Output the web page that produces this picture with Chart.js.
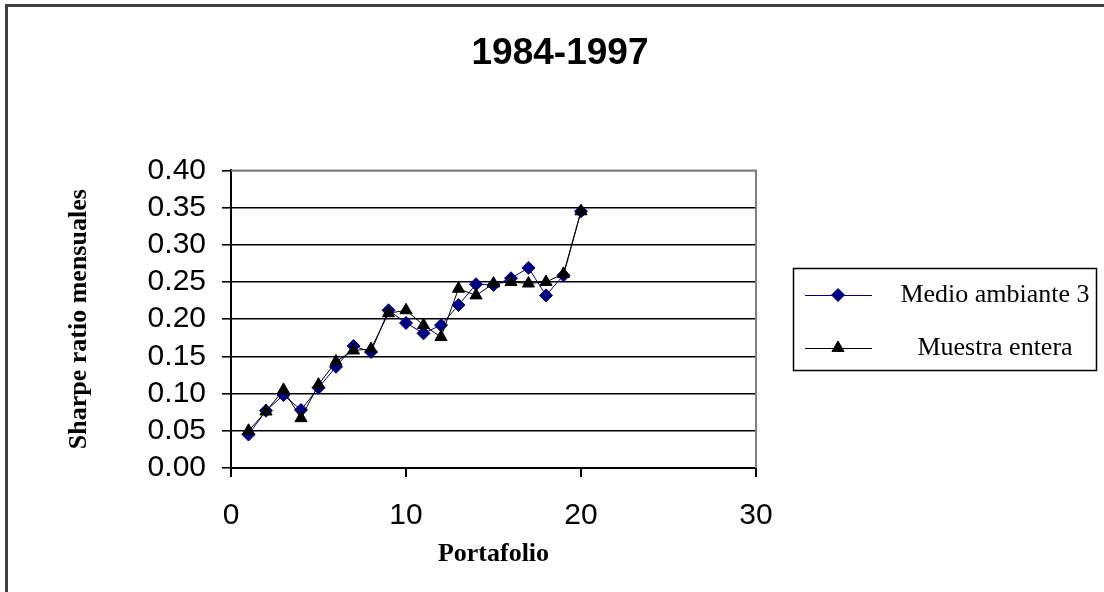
<!DOCTYPE html>
<html>
<head>
<meta charset="utf-8">
<script src="https://cdn.jsdelivr.net/npm/chart.js@4/dist/chart.umd.min.js"></script>
<style>
  html, body { margin: 0; padding: 0; background: #fff; }
  #wrap { position: absolute; left: 0; top: 0; width: 1104px; height: 592px; }
</style>
</head>
<body>
<div id="wrap"><canvas id="c" width="1104" height="592"></canvas></div>
<script>
const chartTitle = '1984-1997';
const xTitle = 'Portafolio';
const yTitle = 'Sharpe ratio mensuales';
const seriesNames = ['Medio ambiante 3', 'Muestra entera'];
const portafolio = [1, 2, 3, 4, 5, 6, 7, 8, 9, 10, 11, 12, 13, 14, 15, 16, 17, 18, 19, 20];
const medioAmbiante3 = [0.045, 0.077, 0.098, 0.078, 0.108, 0.136, 0.164, 0.156, 0.212, 0.195,
                        0.181, 0.192, 0.219, 0.247, 0.246, 0.255, 0.269, 0.232, 0.259, 0.345];
const muestraEntera = [0.050, 0.076, 0.105, 0.067, 0.112, 0.143, 0.158, 0.160, 0.208, 0.212,
                       0.192, 0.176, 0.241, 0.232, 0.248, 0.250, 0.248, 0.250, 0.261, 0.345];
const xTicks = [0, 10, 20, 30];
const yTicks = [0, 0.05, 0.10, 0.15, 0.20, 0.25, 0.30, 0.35, 0.40];

const toPts = (ys) => portafolio.map((x, i) => ({ x: x, y: ys[i] }));

const framePlugin = {
  id: 'frame',
  beforeDraw(chart) {
    const ctx = chart.ctx;
    ctx.save();
    ctx.fillStyle = '#fff';
    ctx.fillRect(0, 0, chart.width, chart.height);
    ctx.strokeStyle = '#404040';
    ctx.lineWidth = 3;
    ctx.beginPath();
    ctx.moveTo(6.5, chart.height);
    ctx.lineTo(6.5, 5.5);
    ctx.lineTo(chart.width, 5.5);
    ctx.stroke();
    ctx.restore();
  },
  beforeDatasetsDraw(chart) {
    const a = chart.chartArea;
    const ctx = chart.ctx;
    ctx.save();
    ctx.strokeStyle = '#808080';
    ctx.lineWidth = 2;
    ctx.beginPath();
    ctx.moveTo(a.left, a.top);
    ctx.lineTo(a.right, a.top);
    ctx.lineTo(a.right, a.bottom);
    ctx.stroke();
    ctx.restore();
  }
};

const legendPlugin = {
  id: 'boxLegend',
  afterDraw(chart) {
    const ctx = chart.ctx;
    const bx = 793, by = 268, bw = 303, bh = 102;
    ctx.save();
    ctx.strokeStyle = '#000';
    ctx.lineWidth = 1.5;
    ctx.strokeRect(bx + 0.5, by + 0.5, bw, bh);
    const rows = [295, 348];
    chart.data.datasets.forEach((ds, i) => {
      const y = rows[i];
      ctx.strokeStyle = ds.borderColor;
      ctx.lineWidth = 1;
      ctx.beginPath();
      ctx.moveTo(805, y + 0.5);
      ctx.lineTo(872, y + 0.5);
      ctx.stroke();
      ctx.fillStyle = ds.pointBackgroundColor;
      ctx.strokeStyle = ds.pointBorderColor;
      Chart.helpers.drawPoint(ctx, {
        pointStyle: ds.pointStyle, radius: ds.pointRadius, borderWidth: 1, rotation: 0
      }, 838, y);
      ctx.fillStyle = '#000';
      ctx.font = '26px "Liberation Serif", "Times New Roman", serif';
      ctx.textAlign = 'center';
      ctx.textBaseline = 'middle';
      ctx.fillText(ds.label, 995, y);
    });
    ctx.restore();
  }
};

new Chart(document.getElementById('c'), {
  type: 'line',
  data: {
    datasets: [
      {
        label: seriesNames[0],
        data: toPts(medioAmbiante3),
        borderColor: '#000080',
        backgroundColor: '#000080',
        pointBackgroundColor: '#000080',
        pointBorderColor: '#000080',
        pointStyle: 'rectRot',
        pointRadius: 6.5,
        borderWidth: 1,
        tension: 0,
        order: 1
      },
      {
        label: seriesNames[1],
        data: toPts(muestraEntera),
        borderColor: '#000',
        backgroundColor: '#000',
        pointBackgroundColor: '#000',
        pointBorderColor: '#000',
        pointStyle: 'triangle',
        pointRadius: 7,
        borderWidth: 1,
        tension: 0,
        order: 0
      }
    ]
  },
  options: {
    responsive: false,
    animation: false,
    layout: { padding: { left: 16, right: 0, top: 0, bottom: 20 } },
    plugins: {
      legend: { display: false },
      tooltip: { enabled: false },
      title: {
        display: true,
        text: chartTitle,
        color: '#000',
        font: { family: '"Liberation Sans", Arial, sans-serif', size: 37, weight: 'bold' },
        padding: { top: 32, bottom: 94 }
      }
    },
    scales: {
      x: {
        type: 'linear',
        min: 0, max: 30,
        afterBuildTicks(s) { s.ticks = xTicks.map(v => ({ value: v })); },
        afterFit(s) { s.height = 104; },
        border: { display: true, color: '#000', width: 2 },
        grid: { drawOnChartArea: false, drawTicks: true, tickLength: 9, color: '#000', tickColor: '#000', lineWidth: 2 },
        ticks: {
          color: '#000',
          padding: 21,
          maxRotation: 0,
          autoSkip: false,
          font: { family: '"Liberation Sans", Arial, sans-serif', size: 30 },
          callback: (v) => String(v)
        },
        title: {
          display: true,
          text: xTitle,
          color: '#000',
          font: { family: '"Liberation Serif", "Times New Roman", serif', size: 26, weight: 'bold' },
          padding: { top: 0, bottom: 2 }
        }
      },
      y: {
        type: 'linear',
        min: 0, max: 0.4,
        afterBuildTicks(s) { s.ticks = yTicks.map(v => ({ value: v })); },
        afterFit(s) { s.width = 215; },
        border: { display: true, color: '#000', width: 2 },
        grid: {
          drawOnChartArea: true, drawTicks: true, tickLength: 9,
          color: (c) => (c.tick && Math.abs(c.tick.value - 0.4) < 1e-9) ? '#808080' : '#000',
          tickColor: '#000',
          lineWidth: 1.6
        },
        ticks: {
          color: '#000',
          padding: 16,
          autoSkip: false,
          font: { family: '"Liberation Sans", Arial, sans-serif', size: 30 },
          callback: (v) => Number(v).toFixed(2)
        },
        title: {
          display: true,
          text: yTitle,
          color: '#000',
          font: { family: '"Liberation Serif", "Times New Roman", serif', size: 26, weight: 'bold' },
          padding: { top: 48, bottom: 0 }
        }
      },
      yRightSpace: {
        type: 'linear',
        position: 'right',
        display: true,
        afterFit(s) { s.width = 348; },
        border: { display: false },
        grid: { display: false, drawTicks: false },
        ticks: { display: false },
        title: { display: false }
      }
    }
  },
  plugins: [framePlugin, legendPlugin]
});
</script>
</body>
</html>
